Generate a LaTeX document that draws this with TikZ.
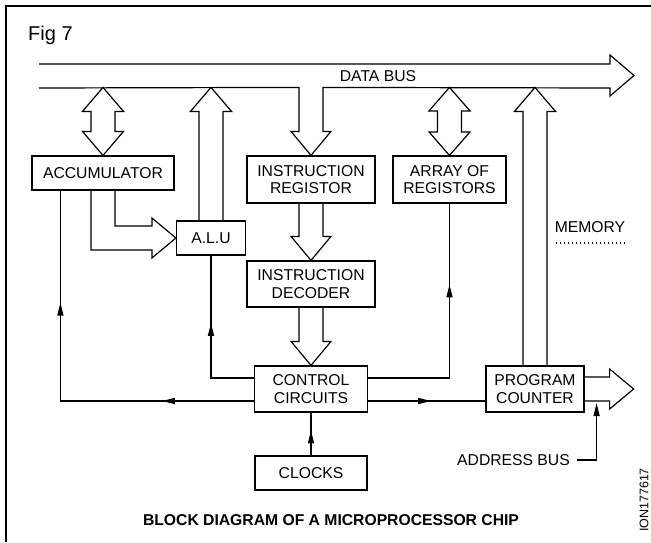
\documentclass[tikz,border=0pt]{standalone}
\usepackage{fontspec}
\setmainfont{Liberation Sans}
\usetikzlibrary{calc,arrows.meta,decorations.markings}
\newcommand{\boxfont}{\fontsize{15.7}{17.5}\selectfont}
\begin{document}
\begin{tikzpicture}[x=1pt,y=-1pt,
  ln/.style={line width=1.2pt, line join=miter},
  box/.style={draw, line width=1.2pt, inner sep=0pt, align=center, font=\boxfont},
  lbl/.style={inner sep=0pt, font=\boxfont},
  tipa/.tip={Triangle[length=13pt,width=6pt]},
  midarrows/.style={postaction=decorate, decoration={markings, #1}}
]
\useasboundingbox (0,0) rectangle (651,542);
% frame
\draw[line width=1.2pt] (6,542) -- (6,6) -- (651,6);
\node[anchor=base west, inner sep=0pt, font=\fontsize{20}{22}\selectfont] (fig) at (28,40) {Fig 7};

% boxes
\node[box, minimum width=142pt, minimum height=34pt] (acc) at (103,173) {ACCUMULATOR};
\node[box, minimum width=69pt, minimum height=34pt] (alu) at (211,238) {A.L.U};
\node[box, minimum width=128pt, minimum height=47pt] (ir) at (311,179.5) {INSTRUCTION\\REGISTOR};
\node[box, minimum width=113pt, minimum height=47pt] (arr) at (449.5,179.5) {ARRAY OF\\REGISTORS};
\node[box, minimum width=128pt, minimum height=46pt] (dec) at (311,284) {INSTRUCTION\\DECODER};
\node[box, minimum width=113pt, minimum height=46pt] (ctl) at (311,389) {CONTROL\\CIRCUITS};
\node[box, minimum width=98pt, minimum height=46pt] (pc) at (535,389) {PROGRAM\\COUNTER};
\node[box, minimum width=112pt, minimum height=34pt] (clk) at (311,473) {CLOCKS};

% labels
\node[lbl] (dbus) at (378,76) {DATA BUS};
\node[lbl] (mem) at (590,227) {MEMORY};
\node[lbl] (addr) at (513.5,460) {ADDRESS BUS};
\node[inner sep=0pt, font=\bfseries\boxfont] (title) at (331,520) {BLOCK DIAGRAM OF A MICROPROCESSOR CHIP};
\node[inner sep=0pt, rotate=90, font=\fontsize{12.5}{13}\selectfont] (code) at (644,500) {ION177617};

% dotted line under MEMORY
\draw[line width=1.6pt, dash pattern=on 1.6pt off 2.4pt] ($(mem.south west)+(1,10)$) -- ($(mem.south east)+(-1,10)$);

% data bus (hollow arrow, feeding the instruction register)
\draw[ln] (39,64) -- (610,64) -- (610,55) -- (634,75.5) -- (610,96) -- (610,88)
  -- ($(ir.north)+(12,-68)$) -- ($(ir.north)+(12,-24)$) -- ++(8,0) -- (ir.north)
  -- ++(-20,-24) -- ++(8,0) -- ($(ir.north)+(-12,-68)$) -- (39,88);

% accumulator <-> data bus
\draw[ln] ($(acc.north)+(0,-68)$) -- ++(20.5,24) -- ++(-8.5,0) -- ++(0,20) -- ++(8.5,0)
  -- (acc.north) -- ++(-20.5,-24) -- ++(8.5,0) -- ++(0,-20) -- ++(-8.5,0) -- cycle;
% array of registors <-> data bus
\draw[ln] ($(arr.north)+(0,-68)$) -- ++(20.5,23.5) -- ++(-8.5,0) -- ++(0,21) -- ++(8.5,0)
  -- (arr.north) -- ++(-20.5,-23.5) -- ++(8.5,0) -- ++(0,-21) -- ++(-8.5,0) -- cycle;
% ALU -> data bus
\draw[ln] ($(alu.north)+(-12,0)$) -- ++(0,-109) -- ++(-8.5,0) -- ++(20.5,-24)
  -- ++(20.5,24) -- ++(-8.5,0) -- ($(alu.north)+(12,0)$);
% program counter -> data bus
\draw[ln] ($(pc.north)+(-12,0)$) -- ++(0,-254) -- ++(-8.5,0) -- ++(20.5,-24)
  -- ++(20.5,24) -- ++(-8.5,0) -- ($(pc.north)+(12,0)$);
% instruction register -> decoder
\draw[ln] ($(ir.south)+(-12,0)$) -- ($(dec.north)+(-12,-24)$) -- ++(-8,0) -- (dec.north)
  -- ++(20,-24) -- ++(-8,0) -- ($(ir.south)+(12,0)$);
% decoder -> control
\draw[ln] ($(dec.south)+(-12,0)$) -- ($(ctl.north)+(-12,-24)$) -- ++(-8,0) -- (ctl.north)
  -- ++(20,-24) -- ++(-8,0) -- ($(dec.south)+(12,0)$);
% accumulator -> ALU
\draw[ln] ($(acc.south)+(-12,0)$) |- ($(alu.west)+(-24,12)$) -- ++(0,8) -- (alu.west)
  -- ++(-24,-20) -- ++(0,8) -| ($(acc.south)+(12,0)$);
% program counter -> address bus
\draw[ln] ($(pc.east)+(0,-12)$) -- ++(25,0) -- ++(0,-8) -- ++(24,20) -- ++(-24,20)
  -- ++(0,-8) -- ($(pc.east)+(0,12)$);

% control lines
\draw[ln, midarrows={mark=at position 92pt with {\arrow{tipa}}, mark=at position 292pt with {\arrow{tipa}}}]
  ($(ctl.west)+(0,12)$) -| ($(acc.south west)+(29,0)$);
\draw[ln, midarrows={mark=at position 98pt with {\arrow{tipa}}}]
  ($(ctl.west)+(0,-11)$) -| (alu.south);
\draw[ln, midarrows={mark=at position 175pt with {\arrow{tipa}}}]
  ($(ctl.east)+(0,-11)$) -| (arr.south);
\draw[ln, midarrows={mark=at position 63pt with {\arrow{tipa}}}]
  ($(ctl.east)+(0,12)$) -- ($(pc.west)+(0,12)$);
\draw[ln, midarrows={mark=at position 25pt with {\arrow{tipa}}}]
  (clk.north) -- (ctl.south);
\coordinate (abend) at ($(pc.east)+(12,14)$);
\draw[ln, -{tipa}] ($(addr.east)+(7,0)$) -| (abend);
\end{tikzpicture}
\end{document}
